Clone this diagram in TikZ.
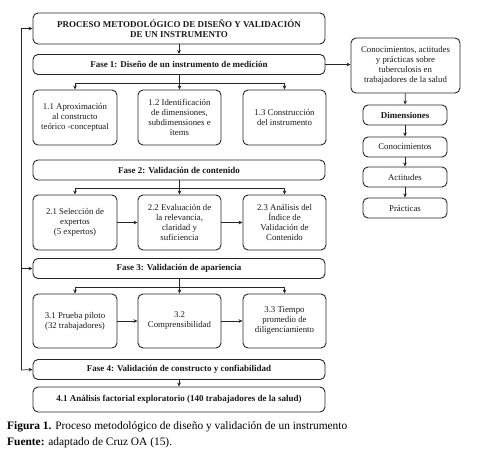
\documentclass[tikz,border=0pt]{standalone}
\usepackage{fontspec}
\setmainfont{Liberation Serif}
\usetikzlibrary{arrows.meta,calc}
\begin{document}
\begin{tikzpicture}[x={(1pt,0)},y={(0,-1pt)},
  every node/.style={font=\fontsize{8.8}{10}\selectfont},
  box/.style={draw=black!85,line width=0.9pt,rounded corners=5pt,align=center,inner sep=1pt,text=black!90},
  fase/.style={box,minimum width=292pt,minimum height=20pt,font=\fontsize{9}{10}\selectfont\bfseries},
  sub/.style={box,minimum width=83pt,minimum height=55pt},
  rbox/.style={box,minimum width=84pt,minimum height=20pt},
  arr/.style={draw=black!85,line width=0.7pt,-{Stealth[length=4pt,width=3.6pt]}},
  ln/.style={draw=black!85,line width=0.7pt}]
\useasboundingbox (0,0) rectangle (486,454);
% main column
\node[box,minimum width=292pt,minimum height=31pt,font=\fontsize{9}{10.5}\selectfont\bfseries] (title) at (179,28.5) {PROCESO METODOLÓGICO DE DISEÑO Y VALIDACIÓN\\DE UN INSTRUMENTO};
\node[fase] (f1) at (179,64.5) {Fase 1: Diseño de un instrumento de medición};
\node[sub,minimum width=84pt] (a11) at (75,117.5) {1.1 Aproximación\\al constructo\\teórico -conceptual};
\node[sub] (a12) at (179.5,117.5) {1.2 Identificación\\de dimensiones,\\subdimensiones e\\ítems};
\node[sub] (a13) at (284.5,117.5) {1.3 Construcción\\del instrumento};
\node[fase] (f2) at (179,170) {Fase 2: Validación de contenido};
\node[sub,minimum width=84pt] (a21) at (75,222.5) {2.1 Selección de\\expertos\\(5 expertos)};
\node[sub] (a22) at (179.5,222.5) {2.2 Evaluación de\\la relevancia,\\claridad y\\suficiencia};
\node[sub] (a23) at (284.5,222.5) {2.3 Análisis del\\Índice de\\Validación de\\Contenido};
\node[fase] (f3) at (179,268.5) {Fase 3: Validación de apariencia};
\node[sub,minimum width=84pt,minimum height=54pt] (a31) at (75,321) {3.1 Prueba piloto\\(32 trabajadores)};
\node[sub,minimum height=54pt] (a32) at (179.5,321) {3.2\\Comprensibilidad};
\node[sub,minimum height=54pt] (a33) at (284.5,321) {3.3 Tiempo\\promedio de\\diligenciamiento};
\node[fase] (f4) at (179,369.5) {Fase 4: Validación de constructo y confiabilidad};
\node[fase,minimum height=25pt] (f41) at (179,399.5) {4.1 Análisis factorial exploratorio (140 trabajadores de la salud)};
% right column
\node[box,minimum width=109pt,minimum height=55pt] (cap) at (405.5,65.5) {Conocimientos, actitudes\\y prácticas sobre\\tuberculosis en\\trabajadores de la salud};
\node[rbox,font=\fontsize{9}{10}\selectfont\bfseries] (dim) at (405,115) {Dimensiones};
\node[rbox] (con) at (405,147) {Conocimientos};
\node[rbox] (act) at (405,177) {Actitudes};
\node[rbox] (pra) at (405,208) {Prácticas};
% arrows main
\draw[arr] (title) -- (f1);
\draw[arr] (f4) -- (f41);
\foreach \f/\a/\b/\c/\y in {f1/a11/a12/a13/83, f2/a21/a22/a23/188, f3/a31/a32/a33/287}{
  \draw[ln] (\f.south) -- (\f.south |- 0,\y) coordinate (br\f);
  \draw[ln] (\a.north |- br\f) -- (\c.north |- br\f);
  \draw[arr] (\a.north |- br\f) -- (\a.north);
  \draw[arr] (\b.north |- br\f) -- (\b.north);
  \draw[arr] (\c.north |- br\f) -- (\c.north);
}
\draw[arr] (a21) -- (a22);
\draw[arr] (a22) -- (a23);
\draw[arr] (a31) -- (a32);
\draw[arr] (a32) -- (a33);
% left feedback line
\coordinate (lb) at (21,370);
\draw[arr] (lb) |- (title.west);
\draw[arr] (lb) -- (f4.west);
\draw[arr] (lb |- f3.west) -- (f3.west);
% right arrows
\draw[arr] (f1.east) -- (f1.east -| cap.west);
\draw[arr] (cap) -- (dim);
\draw[arr] (dim) -- (con);
\draw[arr] (con) -- (act);
\draw[arr] (act) -- (pra);
% caption
\node[anchor=base west,inner sep=0,font=\fontsize{11.4}{13}\selectfont] (cap1) at (7,429) {\textbf{Figura 1.} Proceso metodológico de diseño y validación de un instrumento};
\node[anchor=base west,inner sep=0,font=\fontsize{11.4}{13}\selectfont] (cap2) at (7,445) {\textbf{Fuente:} adaptado de Cruz OA (15).};
\end{tikzpicture}
\end{document}
